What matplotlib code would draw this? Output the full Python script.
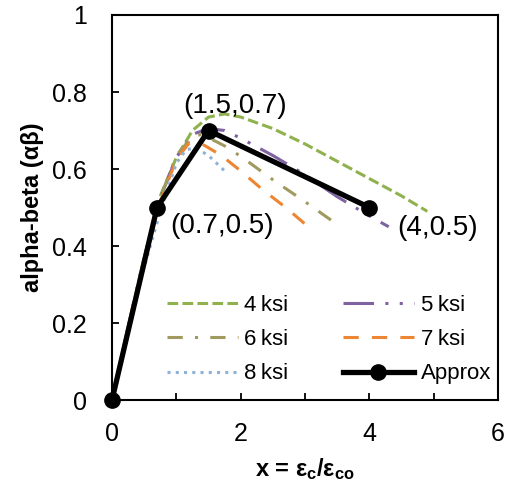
import matplotlib
matplotlib.use('Agg')
import matplotlib.pyplot as plt
from matplotlib.ticker import MultipleLocator

plt.rcParams['font.family'] = ['Liberation Sans', 'DejaVu Sans']
plt.rcParams['mathtext.fontset'] = 'custom'
plt.rcParams['mathtext.bf'] = 'Liberation Sans:bold'
plt.rcParams['mathtext.rm'] = 'Liberation Sans:bold'

# alpha-beta curves, one per concrete strength
x4 = [0, 0.25, 0.5, 0.75, 1.0, 1.25, 1.5, 1.75, 2.0, 2.5, 3.0, 3.5, 4.0, 4.5, 4.9]
y4 = [0, 0.19, 0.37, 0.53, 0.63, 0.70, 0.735, 0.743, 0.735, 0.705, 0.665, 0.62, 0.575, 0.53, 0.49]
x5 = [0, 0.25, 0.5, 0.75, 1.0, 1.25, 1.5, 1.75, 2.0, 2.5, 3.0, 3.5, 4.0, 4.3]
y5 = [0, 0.19, 0.37, 0.525, 0.63, 0.69, 0.705, 0.70, 0.68, 0.635, 0.585, 0.528, 0.478, 0.45]
x6 = [0, 0.25, 0.5, 0.75, 1.0, 1.25, 1.4, 1.75, 2.0, 2.5, 3.0, 3.55]
y6 = [0, 0.19, 0.37, 0.525, 0.635, 0.685, 0.69, 0.66, 0.633, 0.572, 0.515, 0.45]
x7 = [0, 0.25, 0.5, 0.75, 1.0, 1.2, 1.4, 1.7, 2.0, 2.35, 2.7, 3.05]
y7 = [0, 0.19, 0.365, 0.515, 0.625, 0.668, 0.665, 0.635, 0.595, 0.545, 0.50, 0.45]
x8 = [0, 0.25, 0.5, 0.75, 1.0, 1.15, 1.3, 1.5, 1.75]
y8 = [0, 0.175, 0.345, 0.49, 0.615, 0.65, 0.655, 0.635, 0.595]

# bilinear approximation
xa = [0, 0.7, 1.5, 4]
ya = [0, 0.5, 0.7, 0.5]

labels = ['4\u2009ksi', '5\u2009ksi', '6\u2009ksi', '7\u2009ksi', '8\u2009ksi', 'Approx']

fig = plt.figure(figsize=(5.08, 4.87), dpi=100)
ax = fig.add_axes([0.2205, 0.1786, 0.760, 0.7906])

lw = 2.2
l4, = ax.plot(x4, y4, color='#8FB24E', lw=lw, ls=(0, (3.5, 1.4)))
l5, = ax.plot(x5, y5, color='#7F63A1', lw=lw, ls=(0, (10, 3.7, 1, 3.7, 1, 3.7)))
l6, = ax.plot(x6, y6, color='#A09A5F', lw=lw, ls=(0, (5, 4, 1, 4)))
l7, = ax.plot(x7, y7, color='#EE8533', lw=lw, ls=(0, (5, 4.3)))
l8, = ax.plot(x8, y8, color='#8EB1DA', lw=lw, ls=(0, (1, 1.7)))
la, = ax.plot(xa, ya, color='black', lw=3.8, marker='o', ms=11, zorder=5, clip_on=False)

# point labels
offsets = [None, (47, -13), (19, 18), (49, -15)]
for i in range(1, len(xa)):
    ax.annotate('(%g,%g)' % (xa[i], ya[i]), xy=(xa[i], ya[i]), xytext=offsets[i],
                textcoords='offset points', ha='center', va='center', fontsize=20)

ax.set_xlim(0, 6)
ax.set_ylim(0, 1)
ax.xaxis.set_major_locator(MultipleLocator(2))
ax.xaxis.set_minor_locator(MultipleLocator(1))
ax.set_yticks([0, 0.2, 0.4, 0.6, 0.8, 1.0])
ax.set_yticklabels(['0', '0.2', '0.4', '0.6', '0.8', '1'])
ax.tick_params(which='both', direction='in', length=5, width=1.3)
ax.tick_params(axis='x', labelsize=18, pad=16)
ax.tick_params(axis='y', labelsize=18, pad=18)
for s in ax.spines.values():
    s.set_linewidth(1.5)

ax.set_ylabel('alpha-beta (\u03b1\u03b2)', fontsize=17, fontweight='bold', labelpad=6)
ax.set_xlabel(r'x = $\mathbf{\epsilon_{c}/\epsilon_{co}}$', fontsize=17, fontweight='bold', labelpad=7)

handles = [l4, l6, l8, l5, l7, la]
names = [labels[0], labels[2], labels[4], labels[1], labels[3], labels[5]]
ax.legend(handles, names, ncol=2, frameon=False, fontsize=16, loc='lower right',
          bbox_to_anchor=(1.022, 0.0), handlelength=3.2, handletextpad=0.3,
          columnspacing=2.45, labelspacing=0.6, borderaxespad=0.3)

plt.savefig('out.png', dpi=100)
